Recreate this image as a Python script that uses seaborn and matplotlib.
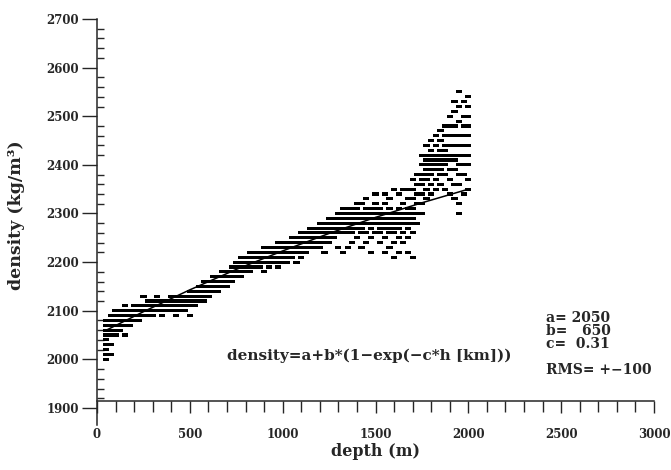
import matplotlib
matplotlib.use("Agg")
import matplotlib.pyplot as plt
import seaborn as sns
import pandas as pd
from matplotlib.ticker import MultipleLocator, FixedLocator

# ---- data ----
depth_cols = [50, 75, 100, 125, 150, 175, 200, 225, 250, 275, 300, 325, 350, 375,
              400, 425, 450, 475, 500, 525, 550, 575, 600, 625, 650, 675, 700, 725,
              750, 775, 800, 825, 850, 875, 900, 925, 950, 975, 1000, 1025, 1050,
              1075, 1100, 1125, 1150, 1175, 1200, 1225, 1250, 1275, 1300, 1325, 1350,
              1375, 1400, 1425, 1450, 1475, 1500, 1525, 1550, 1575, 1600, 1625, 1650,
              1675, 1700, 1725, 1750, 1775, 1800, 1825, 1850, 1875, 1900, 1925, 1950,
              1975, 2000]
density_cols = [
    [2000, 2010, 2020, 2030, 2040, 2050, 2060, 2070, 2080],
    [2010, 2030, 2050, 2060, 2070, 2080, 2090],
    [2050, 2060, 2070, 2080, 2090, 2100],
    [2060, 2070, 2080, 2090, 2100],
    [2050, 2070, 2080, 2090, 2100, 2110],
    [2070, 2080, 2090, 2100],
    [2080, 2090, 2100, 2110],
    [2080, 2090, 2100, 2110],
    [2090, 2100, 2110, 2130],
    [2090, 2100, 2110, 2120],
    [2090, 2100, 2110, 2120],
    [2100, 2110, 2120, 2130],
    [2090, 2100, 2110, 2120],
    [2100, 2110, 2120],
    [2100, 2110, 2120, 2130],
    [2090, 2100, 2110, 2120, 2130],
    [2100, 2110, 2120, 2130],
    [2100, 2110, 2120, 2130],
    [2090, 2110, 2120, 2130, 2140],
    [2110, 2120, 2130, 2140],
    [2120, 2130, 2140, 2150],
    [2120, 2130, 2140, 2150, 2160],
    [2130, 2140, 2150, 2160],
    [2140, 2150, 2160, 2170],
    [2140, 2150, 2160, 2170],
    [2150, 2160, 2170, 2180],
    [2150, 2160, 2170, 2180],
    [2160, 2170, 2180, 2190],
    [2170, 2180, 2190, 2200],
    [2170, 2180, 2190, 2200, 2210],
    [2180, 2190, 2200, 2210],
    [2180, 2190, 2200, 2210, 2220],
    [2190, 2200, 2210, 2220],
    [2190, 2200, 2210, 2220],
    [2180, 2200, 2210, 2220, 2230],
    [2190, 2200, 2210, 2220, 2230],
    [2200, 2210, 2220, 2230],
    [2190, 2200, 2210, 2220, 2230, 2240],
    [2200, 2210, 2220, 2230, 2240],
    [2200, 2210, 2220, 2230, 2240],
    [2210, 2220, 2230, 2240, 2250],
    [2200, 2220, 2230, 2240, 2250],
    [2210, 2220, 2230, 2240, 2250, 2260],
    [2220, 2230, 2240, 2250, 2260],
    [2230, 2240, 2250, 2260, 2270],
    [2230, 2240, 2250, 2260, 2270],
    [2230, 2240, 2250, 2260, 2270, 2280],
    [2220, 2240, 2250, 2260, 2270, 2280],
    [2240, 2250, 2260, 2270, 2280, 2290],
    [2250, 2260, 2270, 2280, 2290],
    [2230, 2260, 2270, 2280, 2290, 2300],
    [2220, 2260, 2270, 2280, 2290, 2300, 2310],
    [2230, 2260, 2270, 2280, 2290, 2300, 2310],
    [2240, 2260, 2270, 2280, 2290, 2300, 2310],
    [2250, 2270, 2280, 2290, 2300, 2310, 2320],
    [2230, 2260, 2270, 2280, 2290, 2300, 2320],
    [2240, 2260, 2280, 2290, 2300, 2310, 2330],
    [2220, 2250, 2270, 2280, 2290, 2300, 2310],
    [2260, 2280, 2290, 2300, 2310, 2320, 2340],
    [2240, 2260, 2270, 2280, 2290, 2300, 2310],
    [2220, 2250, 2270, 2280, 2290, 2300, 2320, 2340],
    [2230, 2260, 2270, 2280, 2290, 2300, 2310, 2330],
    [2210, 2240, 2260, 2270, 2280, 2290, 2300, 2350],
    [2220, 2250, 2270, 2280, 2290, 2300, 2310, 2340],
    [2240, 2260, 2280, 2290, 2300, 2320, 2350],
    [2220, 2250, 2270, 2280, 2290, 2300, 2310, 2330, 2350],
    [2210, 2260, 2280, 2290, 2300, 2310, 2330, 2350, 2370],
    [2280, 2300, 2320, 2340, 2360, 2380],
    [2300, 2320, 2340, 2360, 2370, 2380, 2400, 2420],
    [2330, 2350, 2370, 2380, 2390, 2400, 2410, 2420, 2440],
    [2340, 2360, 2380, 2390, 2400, 2410, 2420, 2430, 2450],
    [2350, 2370, 2390, 2400, 2410, 2420, 2440, 2460],
    [2360, 2380, 2390, 2400, 2410, 2420, 2430, 2450, 2470],
    [2350, 2380, 2400, 2410, 2420, 2430, 2440, 2460, 2480],
    [2340, 2370, 2390, 2410, 2420, 2440, 2460, 2480, 2500],
    [2330, 2360, 2390, 2410, 2420, 2440, 2460, 2480, 2510, 2530],
    [2300, 2320, 2360, 2380, 2400, 2420, 2440, 2460, 2490, 2520, 2550],
    [2340, 2380, 2400, 2420, 2440, 2460, 2480, 2500, 2530],
    [2350, 2370, 2400, 2420, 2440, 2460, 2480, 2500, 2520, 2540],
]

fit_depth = [50, 250, 500, 750, 1000, 1250, 1500, 1750, 2000]
fit_density = [2060, 2098, 2143, 2185, 2223, 2259, 2292, 2322, 2350]

x_ticks = [0, 500, 1000, 1500, 2000, 2500, 3000]
y_ticks = [1900, 2000, 2100, 2200, 2300, 2400, 2500, 2600, 2700]
y_minor = list(range(1900, 2701, 20))

param_text = "a= 2050\nb=   650\nc=  0.31"
rms_text = "RMS= +\u2212100"
formula_text = "density=a+b*(1\u2212exp(\u2212c*h [km]))"

# ---- build table ----
rows = []
for d, vals in zip(depth_cols, density_cols):
    for v in vals:
        rows.append((d, v))
df = pd.DataFrame(rows, columns=["depth", "density"])
fit_df = pd.DataFrame({"depth": fit_depth, "density": fit_density})

sns.set_style("ticks")
plt.rcParams["font.family"] = ["DejaVu Serif"]
plt.rcParams["font.weight"] = "bold"

fig = plt.figure(figsize=(6.71, 4.70), dpi=100)
# 0 m at x=97 px, 3000 m at x=654 px; 2700 at y=19 px, 1865 at y=425 px
ax = fig.add_axes([97 / 671, 45 / 470, 557 / 671, 406 / 470])

dash = [(-1.0, -0.5), (1.0, -0.5), (1.0, 0.5), (-1.0, 0.5), (-1.0, -0.5)]
sns.scatterplot(data=df, x="depth", y="density", ax=ax, marker=dash, s=20,
                color="black", edgecolor="none", linewidth=0)
sns.lineplot(data=fit_df, x="depth", y="density", ax=ax, color="black",
             linewidth=1.1)

ax.set_xlim(0, 3000)
ax.set_ylim(1865, 2700)
ax.set_xticks(x_ticks)
ax.set_yticks(y_ticks)
ax.xaxis.set_minor_locator(MultipleLocator(100))
ax.yaxis.set_minor_locator(FixedLocator(y_minor))
ax.tick_params(axis="y", which="major", direction="out", length=11, width=1.0,
               labelsize=8.5, pad=2)
ax.tick_params(axis="y", which="minor", direction="in", length=5, width=1.0)
ax.tick_params(axis="x", which="major", direction="out", length=8.5, width=1.0,
               labelsize=8.5, pad=11)
ax.tick_params(axis="x", which="minor", direction="out", length=8, width=1.0)
for lab in ax.get_xticklabels() + ax.get_yticklabels():
    lab.set_fontweight("bold")

for s in ["top", "right"]:
    ax.spines[s].set_visible(False)
ax.spines["left"].set_linewidth(1.1)
ax.spines["bottom"].set_linewidth(1.1)
ax.spines["bottom"].set_position(("data", 1914))
ax.spines["left"].set_bounds(1865, 2700)

ax.set_xlabel("depth (m)", fontsize=11.5, fontweight="bold", labelpad=1)
ax.set_ylabel("density (kg/m\u00b3)", fontsize=12.5, fontweight="bold")
ax.yaxis.set_label_coords(-0.13, 0.517)

ax.text(0.234, 0.170, formula_text, transform=ax.transAxes, fontsize=11,
        fontweight="bold", ha="left", va="center")
ax.text(0.806, 0.282, param_text, transform=ax.transAxes, fontsize=10,
        fontweight="bold", ha="left", va="top", linespacing=0.92)
ax.text(0.806, 0.135, rms_text, transform=ax.transAxes, fontsize=10,
        fontweight="bold", ha="left", va="center")

fig.savefig("out.png", dpi=100)
